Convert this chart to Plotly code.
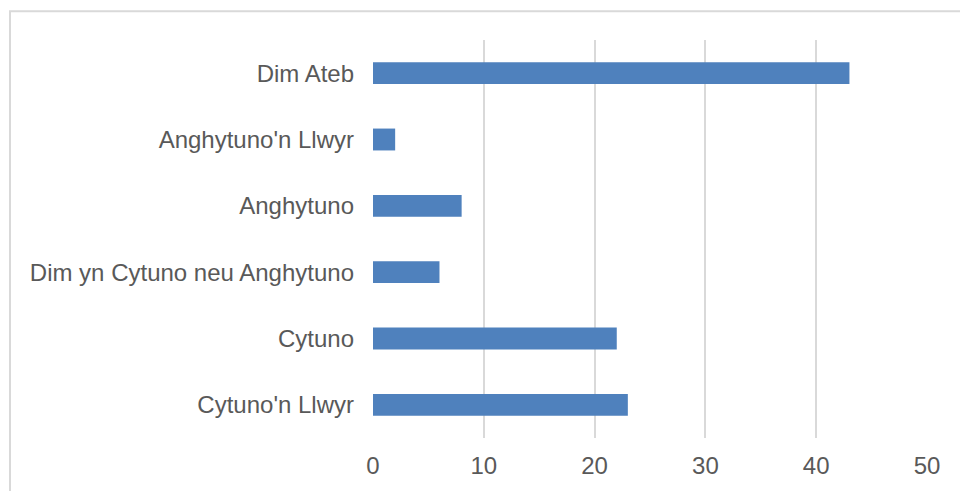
import plotly.graph_objects as go

categories = ["Cytuno'n Llwyr", "Cytuno", "Dim yn Cytuno neu Anghytuno", "Anghytuno", "Anghytuno'n Llwyr", "Dim Ateb"]
values = [23, 22, 6, 8, 2, 43]
x_ticks = [0, 10, 20, 30, 40, 50]

fig = go.Figure(go.Bar(
    x=values, y=categories, orientation="h",
    marker=dict(color="#4F81BD", line=dict(width=0)),
    width=0.33,
))

fig.update_layout(
    width=960, height=491,
    margin=dict(l=373, r=33, t=40, b=51),
    paper_bgcolor="white", plot_bgcolor="white",
    font=dict(family="Liberation Sans, Arial, sans-serif", size=24, color="#595959"),
    showlegend=False,
    xaxis=dict(range=[0, 50], tickvals=x_ticks, showgrid=True, gridcolor="#D9D9D9",
               gridwidth=2, zeroline=False, showline=False, ticks="",
               ticklabelstandoff=11),
    yaxis=dict(showgrid=False, zeroline=False, showline=False, ticks="",
               ticklabelstandoff=18, categoryorder="array", categoryarray=categories),
    shapes=[dict(type="rect", xref="paper", yref="paper",
                 x0=(10 - 373) / 554, x1=1.2, y0=-0.3, y1=(440 - 11) / 400,
                 line=dict(color="#D9D9D9", width=2), fillcolor="rgba(0,0,0,0)", layer="below")],
)

fig.write_html("out.html", config={"displayModeBar": False},
               post_script="document.body.style.margin='0';document.body.style.padding='0';")
